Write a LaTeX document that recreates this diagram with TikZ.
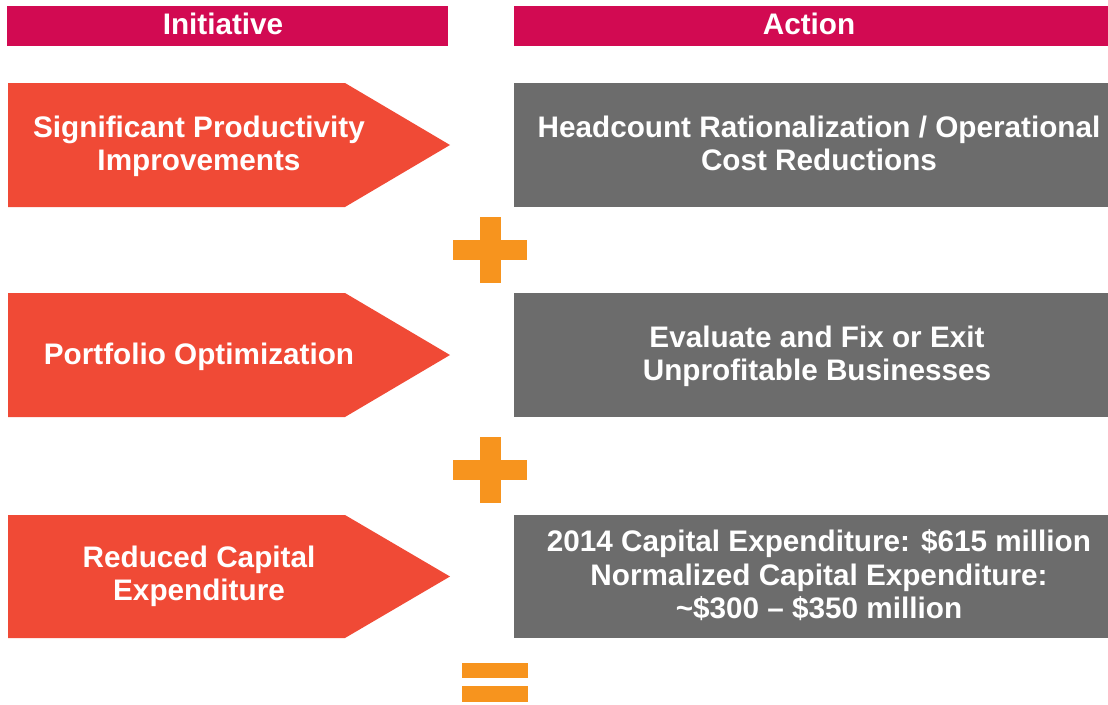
\documentclass[tikz,border=0pt]{standalone}
\usepackage{fontspec}
\setmainfont{Liberation Sans}
\definecolor{hdr}{HTML}{D20A52}
\definecolor{arr}{HTML}{F04A36}
\definecolor{gbox}{HTML}{6C6C6C}
\definecolor{orn}{HTML}{F7941E}
\begin{document}
\begin{tikzpicture}[x=1pt,y=-1pt,
  txt/.style={text=white,font=\fontsize{29.7}{33.5}\selectfont\bfseries,align=center,inner sep=0pt},
  hdrbar/.style={fill=hdr},
  arrowshape/.style={fill=arr},
  graybox/.style={fill=gbox},
  sign/.style={fill=orn}]
\useasboundingbox (0,0) rectangle (1108,704);
% headers
\fill[hdrbar] (7,6) rectangle (448,46);
\fill[hdrbar] (514,6) rectangle (1108,46);
\node[txt] (h1) at (223,24) {Initiative};
\node[txt] (h2) at (809,24) {Action};
% rows
\foreach \t/\b in {83/207,293/417,515/638}{
  \pgfmathsetmacro{\m}{(\t+\b)/2}
  \fill[arrowshape] (8,\t) -- (345,\t) -- (450,\m) -- (345,\b) -- (8,\b) -- cycle;
  \fill[graybox] (514,\t) rectangle (1108,\b);
}
\node[txt] (l1) at (199,146.5) {Significant Productivity\\Improvements};
\node[txt] (l2) at (199,357) {Portfolio Optimization};
\node[txt] (l3) at (199,576.5) {Reduced Capital\\Expenditure};
\node[txt] (r1) at (819,143.5) {Headcount Rationalization / Operational\\Cost Reductions};
\node[txt] (r2) at (817,356.5) {Evaluate and Fix or Exit\\Unprofitable Businesses};
\node[txt] (r3) at (819,575.5) {2014 Capital Expenditure: \$615 million\\Normalized Capital Expenditure:\\\textasciitilde\$300 -- \$350 million};
% plus signs
\foreach \c in {250,470}{
  \fill[sign] (453,\c-10) rectangle (527,\c+10);
  \fill[sign] (479.5,\c-33) rectangle (500.5,\c+33);
}
% equals
\fill[sign] (462,663) rectangle (528,678);
\fill[sign] (462,686) rectangle (528,702);
\end{tikzpicture}
\end{document}
